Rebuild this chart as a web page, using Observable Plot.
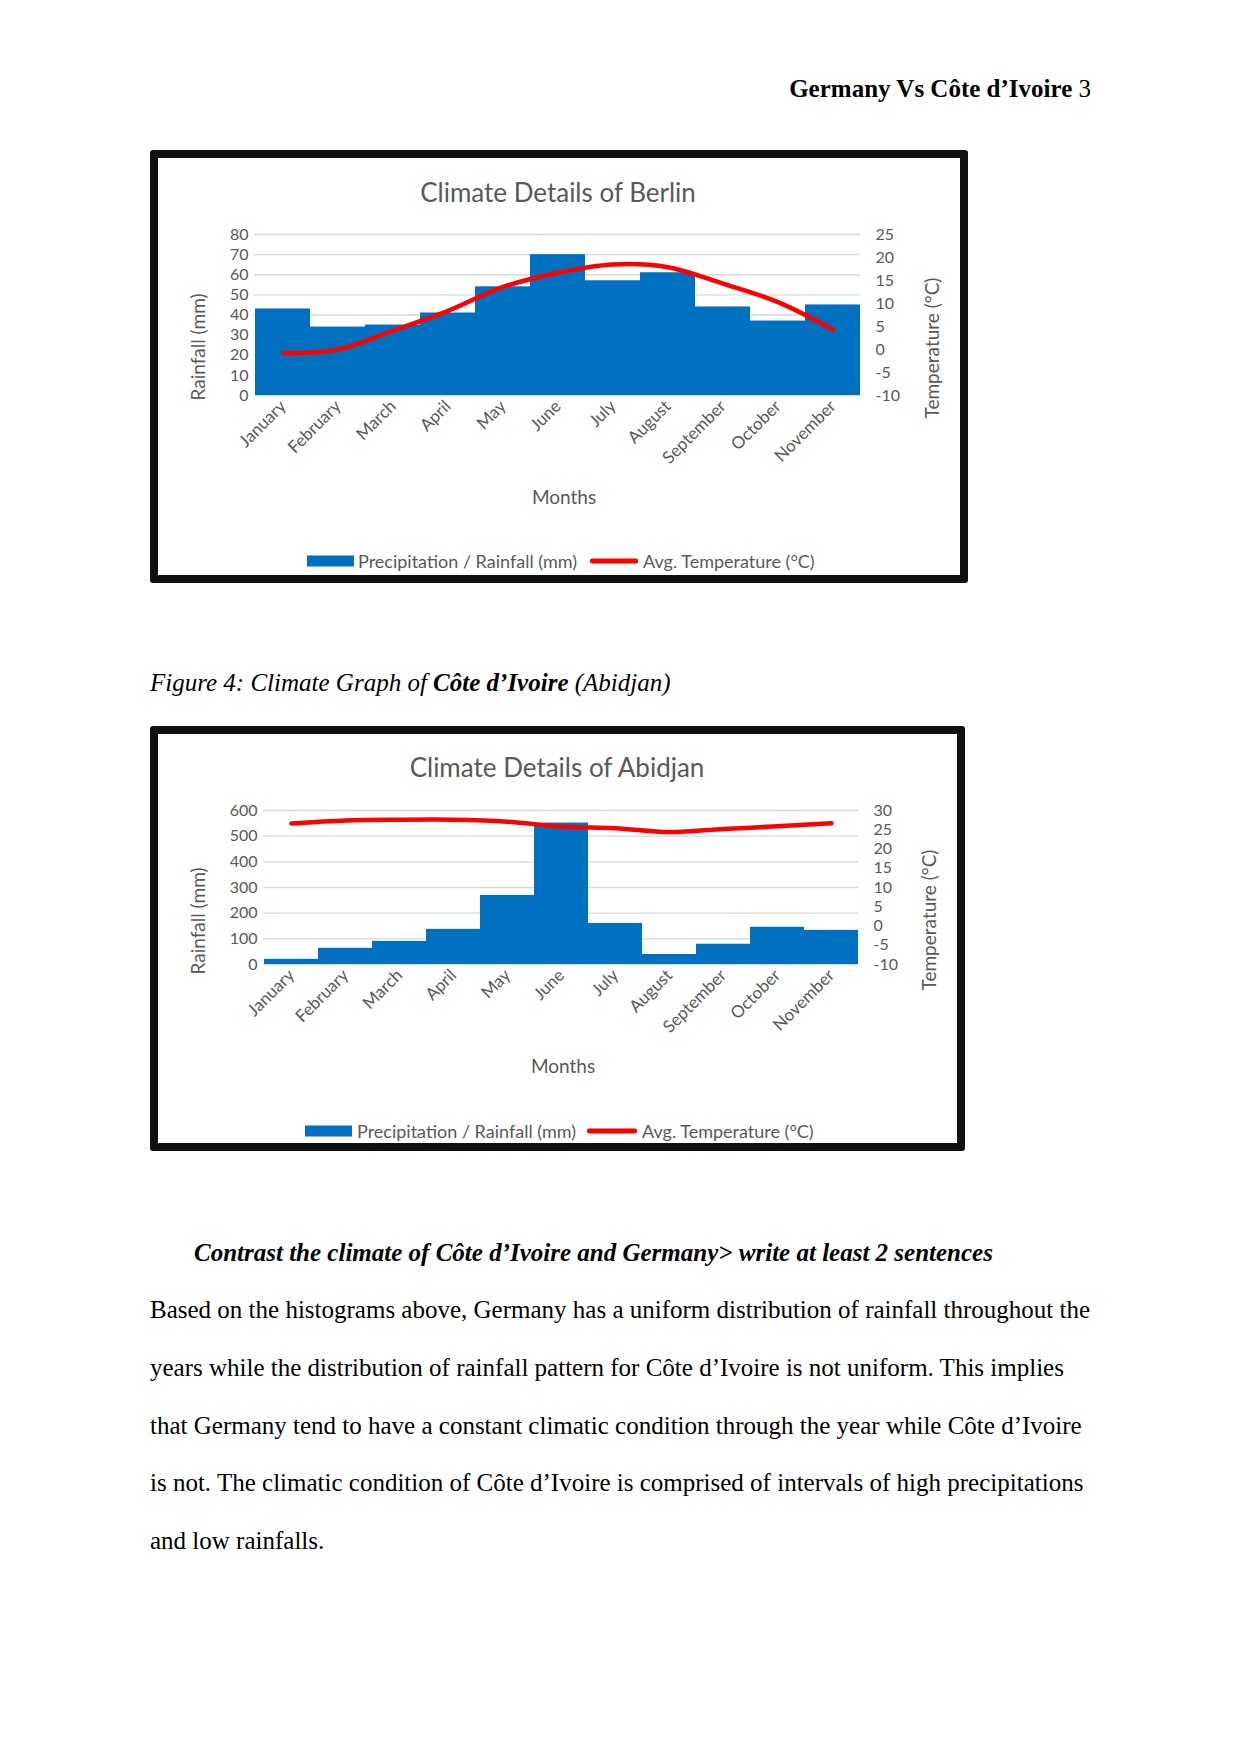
<!DOCTYPE html>
<html><head><meta charset="utf-8">
<script src="https://cdn.jsdelivr.net/npm/d3@7"></script>
<script src="https://cdn.jsdelivr.net/npm/@observablehq/plot@0.6"></script>
<style>
body{margin:0;background:#fff;}
#page{position:relative;width:1241px;height:1754px;background:#fff;overflow:hidden;font-family:"Liberation Serif","Times New Roman",serif;color:#000;}
.frame{position:absolute;border:8px solid #111;box-sizing:border-box;border-radius:3px;}
.ctitle{position:absolute;font-family:Lato,sans-serif;color:#595959;font-size:26px;transform:translate(-50%,-50%);white-space:nowrap;}
.axt{position:absolute;font-family:Lato,sans-serif;color:#595959;font-size:19px;white-space:nowrap;transform:translate(-50%,-50%) rotate(-90deg);}
.xt{position:absolute;font-family:Lato,sans-serif;color:#595959;font-size:19px;white-space:nowrap;transform:translate(-50%,-50%);}
.lg{position:absolute;font-family:Lato,sans-serif;color:#595959;font-size:18px;white-space:nowrap;transform:translateY(-50%);}
.sw{position:absolute;transform:translateY(-50%);}
.svgbox{position:absolute;}
.tl{position:absolute;font-size:25px;line-height:30px;white-space:nowrap;}
.bl{position:absolute;left:150px;font-size:25px;line-height:30px;white-space:nowrap;}
</style>
</head><body>
<div id="page">
  <div class="tl" style="right:150px;top:74px;"><b>Germany Vs Côte d’Ivoire</b> 3</div>

  <div class="frame" style="left:150px;top:150px;width:818px;height:433px;"></div>
  <div class="ctitle" style="left:558px;top:192px;">Climate Details of Berlin</div>
  <div class="svgbox" id="berlin" style="left:158px;top:220px;"></div>
  <div class="axt" style="left:197px;top:347px;">Rainfall (mm)</div>
  <div class="axt" style="left:931px;top:348px;">Temperature (°C)</div>
  <div class="xt" style="left:564px;top:496px;">Months</div>
  <div class="sw" style="left:307px;top:561px;width:47px;height:11px;background:#0070c0;"></div>
  <div class="lg" style="left:358px;top:561px;">Precipitation / Rainfall (mm)</div>
  <div class="sw" style="left:590px;top:561px;width:48px;height:5px;background:#ff0000;border-radius:2px;"></div>
  <div class="lg" style="left:643px;top:561px;">Avg. Temperature (°C)</div>

  <div class="tl" style="left:150px;top:668px;font-style:italic;">Figure 4: Climate Graph of <b>Côte d’Ivoire</b> (Abidjan)</div>

  <div class="frame" style="left:150px;top:726px;width:815px;height:425px;"></div>
  <div class="ctitle" style="left:557px;top:767px;">Climate Details of Abidjan</div>
  <div class="svgbox" id="abidjan" style="left:158px;top:796px;"></div>
  <div class="axt" style="left:197px;top:921px;">Rainfall (mm)</div>
  <div class="axt" style="left:928px;top:920px;">Temperature (°C)</div>
  <div class="xt" style="left:563px;top:1065px;">Months</div>
  <div class="sw" style="left:305px;top:1131px;width:47px;height:11px;background:#0070c0;"></div>
  <div class="lg" style="left:357px;top:1131px;">Precipitation / Rainfall (mm)</div>
  <div class="sw" style="left:587px;top:1131px;width:50px;height:5px;background:#ff0000;border-radius:2px;"></div>
  <div class="lg" style="left:642px;top:1131px;">Avg. Temperature (°C)</div>

  <div class="tl" style="left:194px;top:1238px;font-style:italic;font-weight:bold;">Contrast the climate of Côte d’Ivoire and Germany&gt; write at least 2 sentences</div>
  <div class="bl" style="top:1295px;">Based on the histograms above, Germany has a uniform distribution of rainfall throughout the</div>
  <div class="bl" style="top:1353px;">years while the distribution of rainfall pattern for Côte d’Ivoire is not uniform. This implies</div>
  <div class="bl" style="top:1411px;">that Germany tend to have a constant climatic condition through the year while Côte d’Ivoire</div>
  <div class="bl" style="top:1468px;">is not. The climatic condition of Côte d’Ivoire is comprised of intervals of high precipitations</div>
  <div class="bl" style="top:1526px;">and low rainfalls.</div>
</div>
<script>
const months = ["January","February","March","April","May","June","July","August","September","October","November"];
const berlinRain = [43, 34, 35, 41, 54, 70, 57, 61, 44, 37, 45];
const berlinTemp = [-0.8, 0, 4.1, 8.4, 13.6, 16.7, 18.5, 17.9, 14.3, 10.3, 4.3];
const abidjanRain = [20, 63, 90, 137, 269, 551, 160, 39, 79, 145, 133];
const abidjanTemp = [26.6, 27.4, 27.6, 27.6, 27.1, 25.8, 25.4, 24.4, 25.2, 25.9, 26.7];
const berlinRainTicks = [0, 10, 20, 30, 40, 50, 60, 70, 80];
const berlinTempTicks = [-10, -5, 0, 5, 10, 15, 20, 25];
const abidjanRainTicks = [0, 100, 200, 300, 400, 500, 600];
const abidjanTempTicks = [-10, -5, 0, 5, 10, 15, 20, 25, 30];

function chart(rain, temp, yTicks, tTicks, o) {
  const data = months.map((m, i) => ({month: m, rain: rain[i], temp: temp[i]}));
  const yMax = yTicks[yTicks.length - 1];
  const tMin = tTicks[0], tMax = tTicks[tTicks.length - 1];
  const toY = t => (t - tMin) / (tMax - tMin) * yMax;
  const fromY = y => Math.round(y / yMax * (tMax - tMin) + tMin);
  return Plot.plot({
    width: o.width, height: o.height,
    marginLeft: o.mL, marginRight: o.mR, marginTop: o.mT, marginBottom: o.mB,
    style: {background: "transparent", fontFamily: "Lato, sans-serif", fontSize: "16px", color: "#595959", overflow: "visible"},
    x: {domain: months, padding: 0},
    y: {domain: [0, yMax]},
    marks: [
      Plot.gridY(yTicks, {stroke: "#d9d9d9", strokeOpacity: 1, strokeWidth: 1.3}),
      Plot.barY(data, {x: "month", y: "rain", fill: "#0070c0"}),
      Plot.line(data, {x: "month", y: d => toY(d.temp), stroke: "#ff0000", strokeWidth: 4.5, curve: "catmull-rom"}),
      Plot.axisY(yTicks, {anchor: "left", tickSize: 0, tickPadding: 6, tickFormat: d => String(d), label: null}),
      Plot.axisY(tTicks.map(toY), {anchor: "right", tickSize: 0, tickPadding: 15, textAnchor: "start", tickFormat: y => String(fromY(y)), label: null}),
      Plot.axisX({tickRotate: -45, tickSize: 0, tickPadding: 8, fontSize: 17, label: null})
    ]
  });
}

document.getElementById("berlin").append(
  chart(berlinRain, berlinTemp, berlinRainTicks, berlinTempTicks,
        {width: 802, height: 260, mL: 96, mR: 100, mT: 14, mB: 85}));
document.getElementById("abidjan").append(
  chart(abidjanRain, abidjanTemp, abidjanRainTicks, abidjanTempTicks,
        {width: 799, height: 254, mL: 105, mR: 99, mT: 14, mB: 86}));
</script>
</body></html>
